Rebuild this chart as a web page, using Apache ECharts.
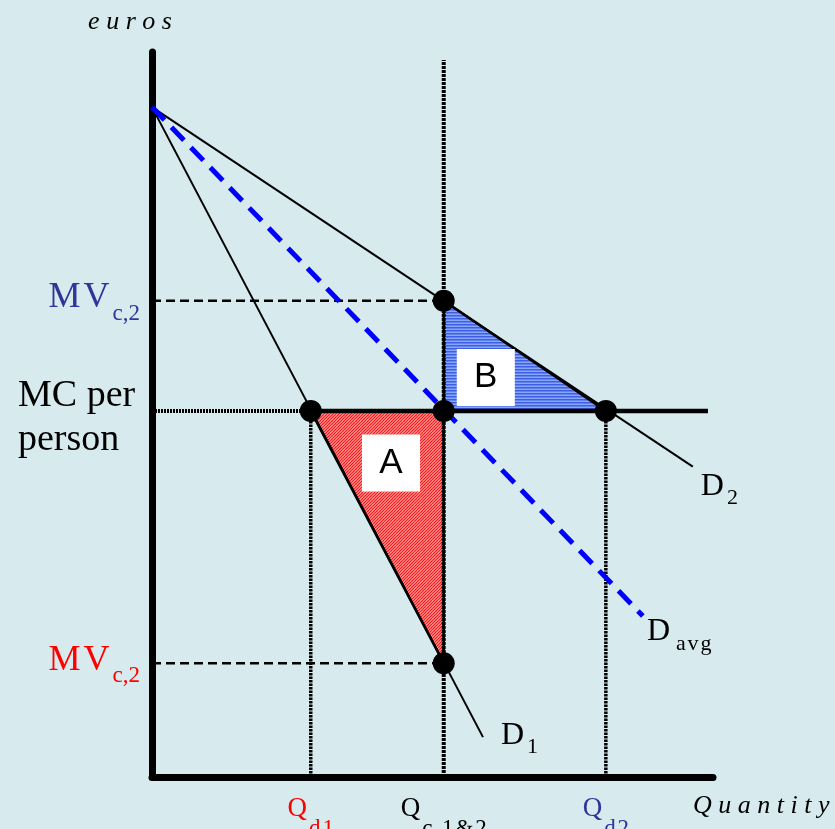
<!DOCTYPE html>
<html>
<head>
<meta charset="utf-8">
<script src="https://cdn.jsdelivr.net/npm/echarts@6/dist/echarts.min.js"></script>
<style>
  html, body { margin: 0; padding: 0; background: #d7ebee; }
  #chart { width: 835px; height: 829px; }
</style>
</head>
<body>
<div id="chart"></div>
<script>
// key values (quantity on x, euros on y)
var qd1 = 28.3, qc = 52.0, qd2 = 80.9;
var mvHigh = 65.7, mc = 50.5, mvLow = 15.7, choke = 92.4;

var d1Line = [[0, choke], [59.0, 5.5]];
var d2Line = [[0, choke], [96.4, 42.8]];
var davgLine = [[0, choke], [87.5, 22.2]];
var mcDotted = [[0, mc], [qd1, mc]];
var mcSolid = [[qd1, mc], [99.1, mc]];
var mvHighDash = [[0, mvHigh], [qc, mvHigh]];
var mvLowDash = [[0, mvLow], [qc, mvLow]];
var qcVertical = [[qc, 0], [qc, 98.9]];
var qd1Vertical = [[qd1, 0], [qd1, mc]];
var qd2Vertical = [[qd2, 0], [qd2, mc]];
var areaA = [[qd1, mc], [qc, mc], [qc, mvLow]];
var areaB = [[qc, mvHigh], [qc, mc], [qd2, mc]];
var dots = [[qd1, mc], [qc, mc], [qd2, mc], [qc, mvHigh], [qc, mvLow]];
var boxes = [[42.6, 43.3, 'A'], [59.5, 55.1, 'B']];

var xTicks = [qd1, qc, qd2];
var xTickLabels = ['{rq|Q}{rs|d\u200a1}', '{kq|Q}{ks|c\u200a,\u200a1\u200a&\u200a2}', '{bq|Q}{bs|d\u200a2}'];
var yTicks = [mvHigh, mc, mvLow];
var yTickLabels = ['{bm|M\u200aV}{bs|c,2}', '{mc|MC per\nperson}', '{rm|M\u200aV}{rs|c,2}'];

var serif = 'Liberation Serif';

// hatch fills
function hatch(kind) {
  var c = document.createElement('canvas');
  c.width = 6; c.height = 6;
  var g = c.getContext('2d');
  if (kind === 'red') {
    g.fillStyle = '#ffa2a2';
    g.fillRect(0, 0, 6, 6);
    g.strokeStyle = '#ff1010';
    g.lineWidth = 1.1;
    for (var k = -6; k <= 18; k += 3) {
      g.beginPath(); g.moveTo(k - 6, 6); g.lineTo(k, 0); g.stroke();
    }
  } else {
    g.fillStyle = '#86a6ff';
    g.fillRect(0, 0, 6, 6);
    g.fillStyle = '#3e60e0';
    g.fillRect(0, 0, 6, 1.5);
    g.fillRect(0, 3, 6, 1.5);
  }
  return { image: c, repeat: 'repeat' };
}
var redFill = hatch('red');
var blueFill = hatch('blue');

var qStyle = function (color) { return { fontFamily: serif, fontSize: 27, color: color }; };
var qSub = function (color) { return { fontFamily: serif, fontSize: 23, color: color, padding: [40, 0, 0, 2] }; };
var mStyle = function (color) { return { fontFamily: serif, fontSize: 36, color: color, padding: [0, 0, 6, 0] }; };
var mSub = function (color) { return { fontFamily: serif, fontSize: 23, color: color, padding: [26, 0, 0, 3] }; };
var dRich = {
  d: { fontFamily: serif, fontSize: 32, color: '#000' },
  s: { fontFamily: serif, fontSize: 22, color: '#000', padding: [24, 0, 0, 3] },
  a: { fontFamily: serif, fontSize: 22, color: '#000', padding: [24, 0, 0, 6] }
};

function seg(data, color, width, type, z) {
  return {
    type: 'line', data: data, showSymbol: false, silent: true, z: z || 2,
    lineStyle: { color: color, width: width, type: type || 'solid' }
  };
}

var chart = echarts.init(document.getElementById('chart'));
var option = {
  backgroundColor: '#d7ebee',
  animation: false,
  grid: { left: 152, right: 122, top: 52, bottom: 52, outerBoundsMode: 'none' },
  xAxis: {
    type: 'value', min: 0, max: 100,
    name: 'Q u a n t i t y', nameLocation: 'end', nameGap: -20, nameMoveOverlap: false,
    nameTextStyle: { fontFamily: serif, fontStyle: 'italic', fontSize: 26, color: '#000', align: 'left', verticalAlign: 'top', padding: [16, 0, 0, 0] },
    axisLine: { show: true, lineStyle: { color: '#000', width: 7, cap: 'round' } },
    axisTick: { show: false },
    splitLine: { show: false },
    axisLabel: {
      customValues: xTicks, margin: 0,
      formatter: function (v) { return xTickLabels[xTicks.indexOf(v)]; },
      rich: {
        rq: qStyle('#ff0000'), rs: qSub('#ff0000'),
        kq: qStyle('#000'), ks: qSub('#000'),
        bq: qStyle('#333399'), bs: qSub('#333399')
      }
    }
  },
  yAxis: {
    type: 'value', min: 0, max: 100,
    name: 'e u r o s', nameLocation: 'end', nameGap: 30, nameMoveOverlap: false,
    nameTextStyle: { fontFamily: serif, fontStyle: 'italic', fontSize: 26, color: '#000', align: 'center', verticalAlign: 'middle', padding: [0, 44, 0, 0] },
    axisLine: { show: true, lineStyle: { color: '#000', width: 7, cap: 'round' } },
    axisTick: { show: false },
    splitLine: { show: false },
    axisLabel: {
      customValues: yTicks, margin: 12,
      formatter: function (v) { return yTickLabels[yTicks.indexOf(v)]; },
      rich: {
        bm: mStyle('#333399'), bs: mSub('#333399'),
        rm: mStyle('#ff0000'), rs: mSub('#ff0000'),
        mc: { fontFamily: serif, fontSize: 38, color: '#000', lineHeight: 44, width: 122, align: 'left', padding: [14, 0, 0, 0] }
      }
    }
  },
  series: [
    {
      type: 'custom', silent: true, z: 1, clip: false,
      data: [areaA[0], areaB[0]],
      renderItem: function (params, api) {
        var tri = params.dataIndex === 0 ? areaA : areaB;
        return {
          type: 'polygon',
          shape: { points: tri.map(function (p) { return api.coord(p); }) },
          style: { fill: params.dataIndex === 0 ? redFill : blueFill, stroke: '#000', lineWidth: 2.5 }
        };
      }
    },
    seg(mvHighDash, '#000', 2.5, [9, 5]),
    seg(mvLowDash, '#000', 2.5, [9, 5]),
    seg(qcVertical, '#000', 4, [3, 1]),
    seg(qd1Vertical, '#000', 3.5, [2.5, 1]),
    seg(qd2Vertical, '#000', 3.5, [2.5, 1]),
    seg(mcDotted, '#000', 4, [2, 1]),
    seg(mcSolid, '#000', 4.5),
    Object.assign(seg(d1Line, '#000', 2), {
      endLabel: { show: true, formatter: '{d|D}{s|1}', rich: dRich, distance: 0, offset: [18, -2] }
    }),
    Object.assign(seg(d2Line, '#000', 2), {
      endLabel: { show: true, formatter: '{d|D}{s|2}', rich: dRich, distance: 0, offset: [8, 20] }
    }),
    Object.assign(seg(davgLine, '#0000ff', 5, [18, 10], 3), {
      endLabel: { show: true, formatter: '{d|D}{a|a\u200av\u200ag}', rich: dRich, distance: 0, offset: [4, 16] }
    }),
    {
      type: 'scatter', data: dots, symbolSize: 22, z: 4, silent: true,
      itemStyle: { color: '#000', opacity: 1 }
    },
    {
      type: 'scatter', data: boxes, symbol: 'rect', symbolSize: [58, 57], z: 5, silent: true,
      itemStyle: { color: '#ffffff', opacity: 1 },
      label: {
        show: true, position: 'inside', formatter: function (p) { return p.value[2]; },
        fontFamily: 'Liberation Sans', fontSize: 35, color: '#000'
      }
    }
  ]
};
chart.setOption(option);
</script>
</body>
</html>
